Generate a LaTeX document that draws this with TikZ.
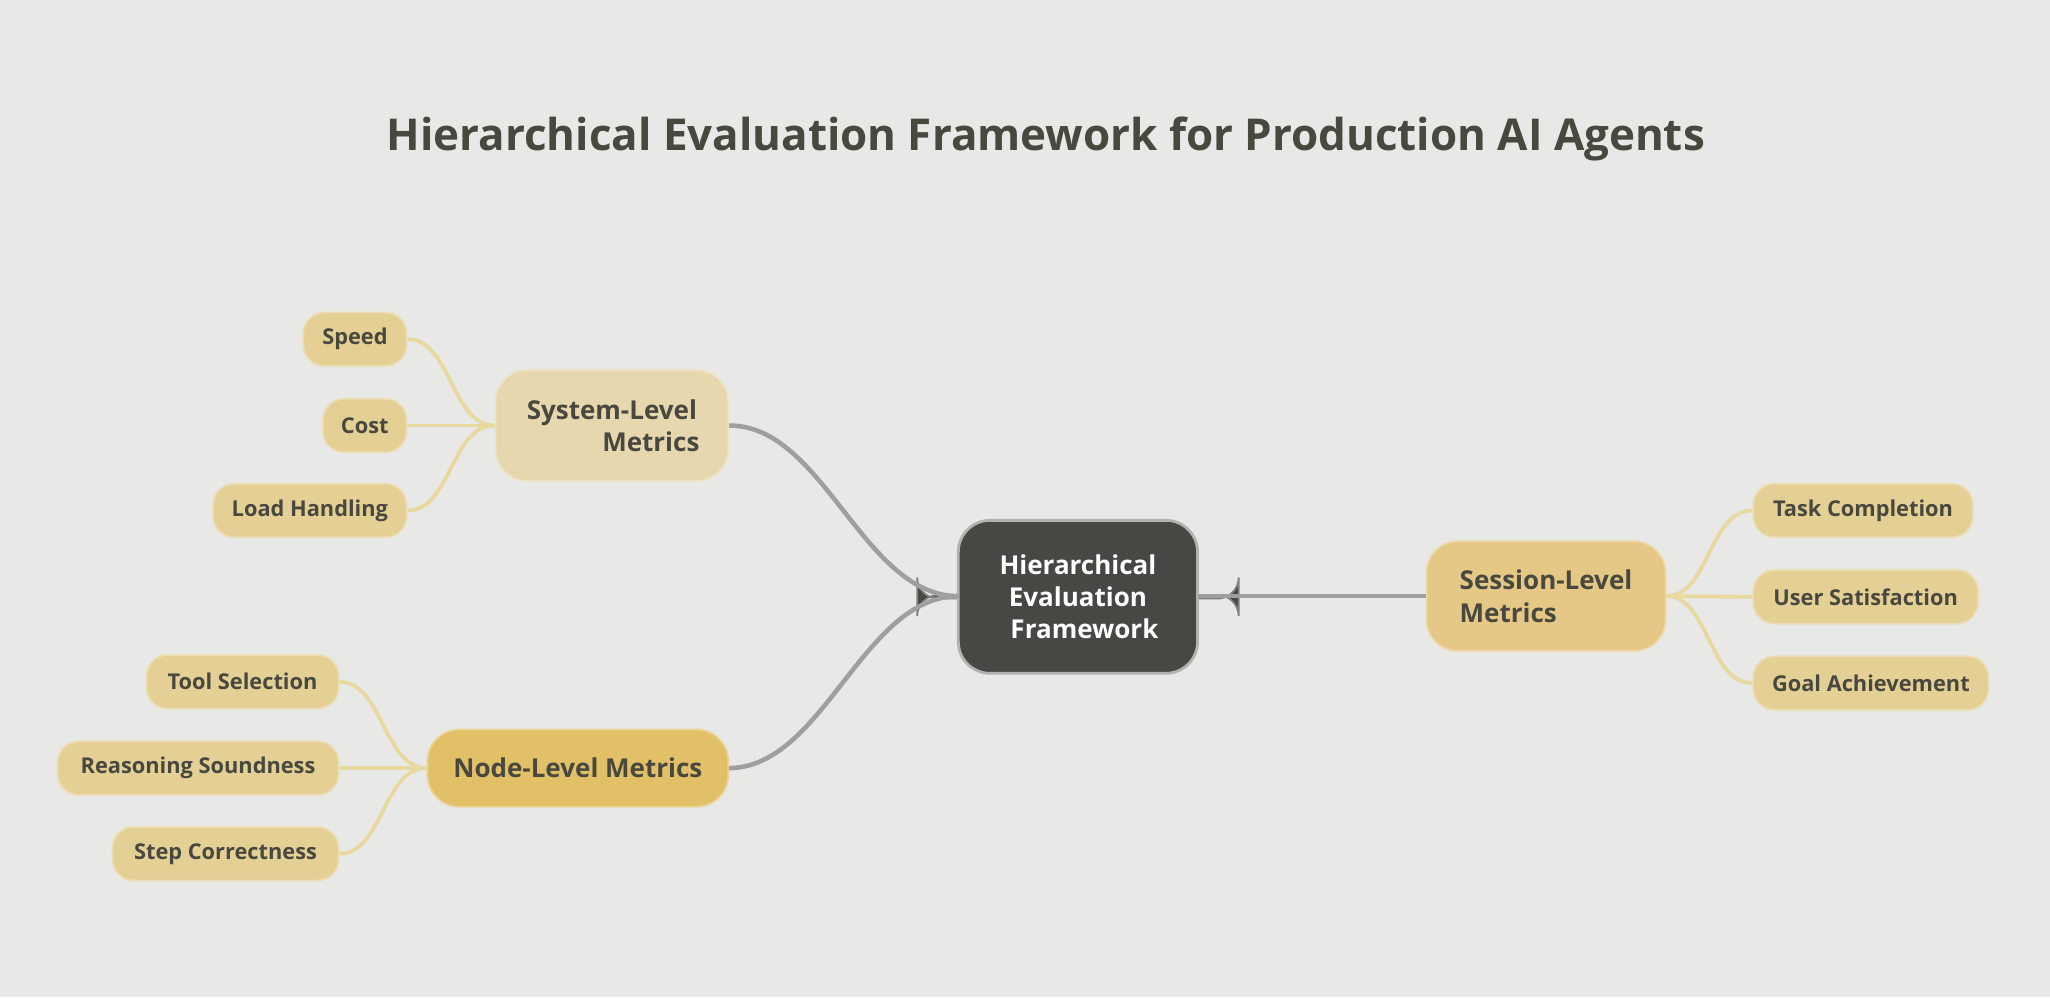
\documentclass[tikz,border=0pt]{standalone}
\usepackage{fontspec}
\setmainfont{Open Sans}
\begin{document}
\begin{tikzpicture}[x=0.013074cm,y=-0.013074cm,
  box/.style={draw=#1!70!white,line width=0.5pt,rounded corners=6pt,inner sep=0pt,align=center,font=\bfseries,text=txt},
  leaf/.style={box=lf,fill=lf,font=\fontsize{6.2}{7.5}\selectfont\bfseries},
  main/.style={draw=gray!75,line width=1.3pt},
  sub/.style={draw=ln,line width=1.1pt}]
\definecolor{bg}{HTML}{E8E8E6}
\definecolor{txt}{HTML}{48483F}
\definecolor{cen}{HTML}{474843}
\definecolor{sys}{HTML}{E6D7AE}
\definecolor{nod}{HTML}{E2C068}
\definecolor{ses}{HTML}{E5C886}
\definecolor{lf}{HTML}{E4CF95}
\definecolor{ln}{HTML}{E8D9A0}
\fill[bg] (0,0) rectangle (1568,762.6);
\useasboundingbox (0,0) rectangle (1568,762.6);
\node[font=\fontsize{12.5}{15}\selectfont\bfseries,text=txt] (title) at (800,106) {Hierarchical Evaluation Framework for Production AI Agents};
\node[box=cen,fill=cen,text=white,minimum width=183\pgflinewidth,text width=1.9cm,font=\fontsize{7.4}{9.2}\selectfont\bfseries] (c) at (824.5,456.5) {};
\path[rounded corners=9pt,fill=cen,draw=gray!60,line width=0.8pt] (733,398) rectangle (916,515);
\node[text=white,align=center,font=\fontsize{7.4}{9.2}\selectfont\bfseries] (ct) at (824.5,456.5) {Hierarchical\\Evaluation\\\hspace{0.5em}Framework};
\coordinate (cw) at (733,456);
\coordinate (ce) at (916,456);
\node[box=sys,fill=sys,minimum width=178*0.013074cm,minimum height=85*0.013074cm,rounded corners=9pt,font=\fontsize{7.4}{9.2}\selectfont\bfseries] (s) at (468,325.5) {System-Level\hspace{0.5em}\\\hfill\hspace{3em}Metrics};
\node[box=nod,fill=nod,minimum width=230*0.013074cm,minimum height=59*0.013074cm,rounded corners=9pt,font=\fontsize{7.4}{9.2}\selectfont\bfseries] (n) at (442,587.5) {Node-Level Metrics};
\node[box=ses,fill=ses,minimum width=183*0.013074cm,minimum height=84*0.013074cm,rounded corners=9pt,font=\fontsize{7.4}{9.2}\selectfont\bfseries,align=left] (e) at (1182.5,456) {Session-Level\\Metrics\hspace{3.2em}};
\foreach \nm/\x/\y/\w/\t in {sp/271.5/259.5/79/Speed, co/279/325.5/64/Cost, lo/237/390.5/148/Load Handling,
  to/185.5/521.5/147/Tool Selection, re/151.5/587.5/215/Reasoning Soundness, st/172.5/653/173/Step Correctness,
  ta/1425/390.5/168/Task Completion, us/1427/456.5/172/User Satisfaction, go/1431/522.5/180/Goal Achievement}
  \node[leaf,minimum width=\w*0.013074cm,minimum height=41*0.013074cm] (\nm) at (\x,\y) {\t};
\draw[main] (cw) .. controls (660,456) and (630,325) .. (s.east);
\draw[main] (cw) .. controls (660,456) and (630,587) .. (n.east);
\draw[main] (ce) -- (e.west);
\foreach \l in {sp,co,lo} \draw[sub] (s.west) .. controls (345,325) and (345,0|-\l.east) .. (\l.east);
\foreach \l in {to,re,st} \draw[sub] (n.west) .. controls (293,587) and (293,0|-\l.east) .. (\l.east);
\foreach \l in {ta,us,go} \draw[sub] (e.east) .. controls (1307,456) and (1307,0|-\l.west) .. (\l.west);
\end{tikzpicture}
\end{document}
